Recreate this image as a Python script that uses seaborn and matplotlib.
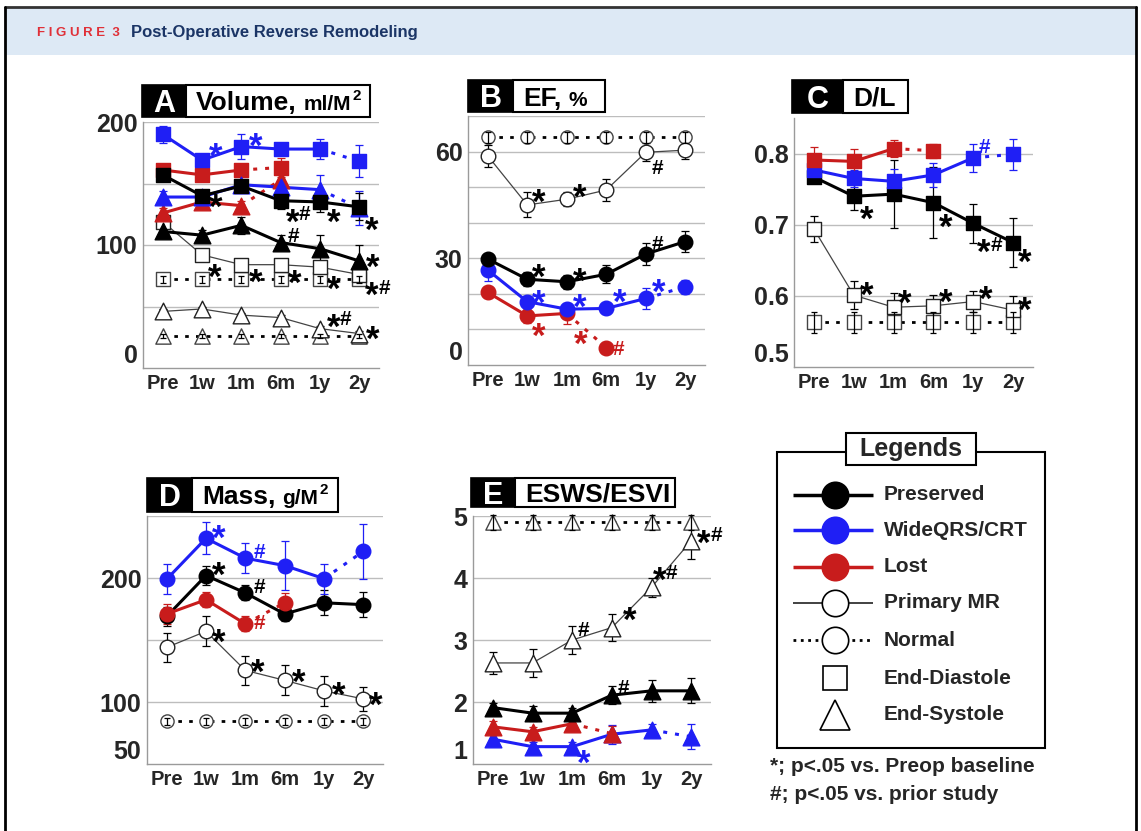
import numpy as np
import matplotlib
matplotlib.use("Agg")
import matplotlib.pyplot as plt
import seaborn as sns
from matplotlib.patches import Rectangle
from matplotlib.lines import Line2D

sns.set_theme(style="white")
plt.rcParams['font.family'] = ['Liberation Sans', 'DejaVu Sans']

W, H = 1141, 831
BLUE = '#1f1ff5'
RED = '#c81c1c'

TIMES = ["Pre", "1w", "1m", "6m", "1y", "2y"]

# A: volume index (ml/M2)
vol_pres_ed = [157, 140, 148, 136, 135, 131]
vol_pres_ed_err = [3, 4, 5, 7, 8, 11]
vol_pres_es = [111, 108, 116, 102, 97, 87]
vol_pres_es_err = [3, 4, 7, 6, 11, 13]
vol_crt_ed = [190, 169, 180, 178, 178, 168]
vol_crt_ed_err = [7, 4, 10, 5, 8, 13]
vol_crt_es = [139, 139, 149, 147, 145, 130]
vol_crt_es_err = [5, 4, 4, 5, 12, 14]
vol_lost_ed = [161, 157, 161, 163]
vol_lost_ed_err = [5, 5, 5, 8]
vol_lost_es = [126, 135, 132, 153]
vol_lost_es_err = [4, 4, 4, 5]
vol_pmr_ed = [119, 92, 84, 84, 82, 76]
vol_pmr_ed_err = [3, 3, 4, 4, 4, 4]
vol_pmr_es = [46, 48, 43, 41, 32, 28]
vol_pmr_es_err = [2, 2, 2, 2, 2, 2]
vol_norm_ed = [72, 72, 72, 72, 72, 72]
vol_norm_ed_err = [3, 3, 3, 3, 3, 3]
vol_norm_es = [26, 26, 26, 26, 26, 26]
vol_norm_es_err = [2, 2, 2, 2, 2, 2]

# B: EF (%)
ef_norm = [64, 64, 64, 64, 64, 64]
ef_norm_err = [1.5, 1.5, 1.5, 1.5, 1.5, 1.5]
ef_pmr = [58.8, 45.0, 46.6, 49.2, 59.8, 60.4]
ef_pmr_err = [3, 3.5, 2, 3, 2.5, 2.5]
ef_pres = [29.8, 24.1, 23.4, 25.5, 31.2, 34.7]
ef_pres_err = [1.5, 2, 2, 2.5, 3, 3]
ef_crt = [26.7, 17.8, 15.7, 15.9, 18.7, 22.0]
ef_crt_err = [3, 1.5, 1.5, 1.5, 3, 2]
ef_lost = [20.4, 13.8, 14.5, 4.9]
ef_lost_err = [1.5, 2, 3, 1.5]

# C: D/L
dl_lost = [0.791, 0.789, 0.807, 0.804]
dl_lost_err = [0.018, 0.018, 0.012, 0.01]
dl_crt = [0.777, 0.765, 0.761, 0.770, 0.794, 0.799]
dl_crt_err = [0.01, 0.012, 0.017, 0.017, 0.02, 0.022]
dl_pres = [0.767, 0.740, 0.743, 0.731, 0.702, 0.675]
dl_pres_err = [0.005, 0.02, 0.048, 0.05, 0.027, 0.035]
dl_pmr = [0.694, 0.601, 0.584, 0.586, 0.592, 0.580]
dl_pmr_err = [0.018, 0.02, 0.02, 0.015, 0.015, 0.02]
dl_norm = [0.563, 0.563, 0.563, 0.563, 0.563, 0.563]
dl_norm_err = [0.015, 0.015, 0.015, 0.015, 0.015, 0.015]

# D: mass (g/M2)
mass_crt = [199, 232, 216, 210, 199.5, 221.5]
mass_crt_err = [12, 13, 12, 20, 12, 22]
mass_pres = [169, 202, 188, 171, 180, 178.5]
mass_pres_err = [8, 8, 6, 6, 10, 10]
mass_lost = [171, 182.5, 163, 180]
mass_lost_err = [8, 6, 6, 8]
mass_pmr = [144, 157, 125.5, 117.5, 109, 102.5]
mass_pmr_err = [12, 12, 12, 12, 12, 10]
mass_norm = [84.4, 84.4, 84.4, 84.4, 84.4, 84.4]
mass_norm_err = [3, 3, 3, 3, 3, 3]

# E: ESWS/ESVI
esws_norm = [4.9, 4.9, 4.9, 4.9, 4.9, 4.9]
esws_norm_err = [0.12, 0.12, 0.12, 0.12, 0.12, 0.12]
esws_pmr = [2.63, 2.63, 3.0, 3.2, 3.85, 4.6]
esws_pmr_err = [0.18, 0.22, 0.22, 0.22, 0.15, 0.3]
esws_pres = [1.91, 1.82, 1.82, 2.11, 2.18, 2.18]
esws_pres_err = [0.08, 0.12, 0.08, 0.15, 0.18, 0.2]
esws_lost = [1.6, 1.52, 1.65, 1.49]
esws_lost_err = [0.1, 0.08, 0.08, 0.12]
esws_crt = [1.4, 1.28, 1.28, 1.48, 1.55, 1.44]
esws_crt_err = [0.08, 0.08, 0.08, 0.15, 0.1, 0.2]

GROUPS = {
    'pres': dict(color='black', lw=2.2, face='black', edge='black', dot_from=None),
    'crt': dict(color=BLUE, lw=2.2, face=BLUE, edge=BLUE, dot_from=4),
    'lost': dict(color=RED, lw=2.2, face=RED, edge=RED, dot_from=2),
    'pmr': dict(color='#444444', lw=0.9, face='white', edge='#222222', dot_from=None),
    'norm': dict(color='black', lw=2.0, face='white', edge='#444444', dot_from=0),
}
DOTS = (0, (1.3, 2.6))


def fig_ax(l, t, r, b):
    return fig.add_axes([l / W, 1 - b / H, (r - l) / W, (b - t) / H])


def draw(ax, y, err, group, marker):
    g = GROUPS[group]
    xs = np.arange(len(y))
    k = g['dot_from'] if g['dot_from'] is not None else len(y) - 1
    if k > 0:
        sns.lineplot(x=xs[:k + 1], y=y[:k + 1], ax=ax, color=g['color'], lw=g['lw'], zorder=3)
    if k < len(y) - 1:
        sns.lineplot(x=xs[k:], y=y[k:], ax=ax, color=g['color'], lw=g['lw'],
                     linestyle=DOTS, zorder=3)
    small = group == 'norm'
    size = 9.5 if small else 10.5
    if marker == '^':
        size += 1.5
    ecol = g['color'] if group in ('crt', 'lost') else 'black'
    ax.errorbar(xs, y, yerr=err, fmt='none', ecolor=ecol, elinewidth=0.9,
                capsize=3 if not small else 2.5, capthick=0.9,
                zorder=4.5 if small else 2, clip_on=False)
    sns.scatterplot(x=xs, y=y, ax=ax, marker=marker, s=size ** 2, color=g['face'],
                    edgecolor=g['edge'], linewidth=1.0, zorder=4, legend=False, clip_on=False)


def mark(ax, y, i, text, color, dx, dy):
    off = dx
    for ch in text:
        if ch == '*':
            fs, rise, w, wt = 25, 0.57, 13, 'bold'
        else:
            fs, rise, w, wt = 15, 0.36, 11, 'bold'
        ax.annotate(ch, xy=(i, y[i]), xytext=(off * 0.72, (dy - rise * fs / 0.72) * 0.72),
                    textcoords='offset points', ha='left', va='baseline', fontsize=fs,
                    color=color, fontweight=wt, annotation_clip=False, zorder=6)
        off += w


def style_axes(ax, ylim, ticks, labels, grid):
    ax.set_xlim(-0.5, 5.5)
    ax.set_ylim(*ylim)
    ax.set_yticks(ticks)
    ax.set_yticklabels(labels, fontsize=18, fontweight='bold')
    ax.set_xticks(range(6))
    ax.set_xticklabels(TIMES, fontsize=14.5, fontweight='bold')
    ax.tick_params(length=0, pad=4)
    for v in grid:
        ax.axhline(v, color='#bdbdbd', lw=1, zorder=1)
    for s in ['top', 'right']:
        ax.spines[s].set_visible(False)
    for s in ['left', 'bottom']:
        ax.spines[s].set_color('#9a9a9a')
        ax.spines[s].set_linewidth(1)
    ax.set_xlabel('')
    ax.set_ylabel('')
    # bottom label sits a little above the axis, as in the source
    ax.get_yticklabels()[0].set_va('bottom')


def title_box(xb, xw, xr, top, bot, letter, main, unit=None):
    h = (bot - top) / H
    fig.patches.append(Rectangle((xb / W, 1 - bot / H), (xw - xb) / W, h, transform=fig.transFigure,
                                 facecolor='black', edgecolor='black', lw=1.2))
    fig.patches.append(Rectangle((xw / W, 1 - bot / H), (xr - xw) / W, h, transform=fig.transFigure,
                                 facecolor='white', edgecolor='black', lw=1.5))
    yc = (top + bot) / 2
    base = yc + 0.36 * 19 / 0.72
    fig.text((xb + xw) / 2 / W, 1 - (yc + 0.36 * 22 / 0.72) / H, letter, color='white', fontsize=22,
             fontweight='bold', ha='center', va='baseline')
    t = fig.text((xw + 10) / W, 1 - base / H, main, color='black', fontsize=19, fontweight='bold',
                 ha='left', va='baseline')
    if unit:
        r = fig.canvas.get_renderer()
        x1 = t.get_window_extent(renderer=r).x1 + 7
        u = fig.text(x1 / W, 1 - base / H, unit[0], color='black', fontsize=15, fontweight='bold',
                     ha='left', va='baseline')
        if unit[1]:
            x2 = u.get_window_extent(renderer=r).x1 + 1
            fig.text(x2 / W, 1 - (base - 10) / H, unit[1], color='black', fontsize=11,
                     fontweight='bold', ha='left', va='baseline')


fig = plt.figure(figsize=(W / 100, H / 100), dpi=100)

# header band and frame
fig.patches.append(Rectangle((5 / W, 1 - 55 / H), 1131 / W, 47 / H, transform=fig.transFigure,
                             facecolor='#dde9f5', edgecolor='none'))
fig.add_artist(Line2D([5 / W, 1136 / W], [1 - 7 / H, 1 - 7 / H], color='#333333', lw=2))
fig.add_artist(Line2D([5 / W, 5 / W], [0, 1 - 7 / H], color='black', lw=2))
fig.add_artist(Line2D([1136 / W, 1136 / W], [0, 1 - 7 / H], color='black', lw=2))
fig.text(37 / W, 1 - 33 / H, 'F I G U R E  3', color='#e03038', fontsize=9.5, fontweight='bold',
         va='center')
fig.text(131 / W, 1 - 33 / H, 'Post-Operative Reverse Remodeling', color='#1b3566', fontsize=12,
         fontweight='bold', va='center')

# ---- A
axA = fig_ax(143, 122, 379, 368)
draw(axA, vol_norm_es, vol_norm_es_err, 'norm', '^')
draw(axA, vol_norm_ed, vol_norm_ed_err, 'norm', 's')
draw(axA, vol_pmr_es, vol_pmr_es_err, 'pmr', '^')
draw(axA, vol_pmr_ed, vol_pmr_ed_err, 'pmr', 's')
draw(axA, vol_pres_es, vol_pres_es_err, 'pres', '^')
draw(axA, vol_lost_es, vol_lost_es_err, 'lost', '^')
draw(axA, vol_lost_ed, vol_lost_ed_err, 'lost', 's')
draw(axA, vol_crt_es, vol_crt_es_err, 'crt', '^')
draw(axA, vol_pres_ed, vol_pres_ed_err, 'pres', 's')
draw(axA, vol_crt_ed, vol_crt_ed_err, 'crt', 's')
style_axes(axA, (0, 200), [0, 50, 100, 150, 200], ['0', '', '100', '', '200'], [50, 100, 150, 200])
for y, i, t, c, dx, dy in [
    (vol_crt_ed, 1, '*', BLUE, 7, 13), (vol_crt_ed, 2, '*', BLUE, 8, 10),
    (vol_pres_ed, 1, '*', 'black', 7, -2), (vol_pres_ed, 3, '*#', 'black', 5, -12),
    (vol_pres_ed, 4, '*', 'black', 7, -11), (vol_pres_ed, 5, '*', 'black', 6, -14),
    (vol_pres_es, 3, '#', 'black', 7, 8), (vol_pres_es, 5, '*', 'black', 7, 3),
    (vol_pmr_ed, 1, '*', 'black', 6, -13), (vol_pmr_ed, 2, '*', 'black', 8, -8),
    (vol_pmr_ed, 3, '*', 'black', 7, -9), (vol_pmr_ed, 4, '*', 'black', 7, -13),
    (vol_pmr_ed, 5, '*#', 'black', 6, -12), (vol_pmr_es, 4, '*#', 'black', 7, 11),
    (vol_pmr_es, 5, '*', 'black', 7, 3)]:
    mark(axA, y, i, t, c, dx, dy)

# ---- B
axB = fig_ax(468, 116, 705, 365)
draw(axB, ef_norm, ef_norm_err, 'norm', 'o')
draw(axB, ef_pmr, ef_pmr_err, 'pmr', 'o')
draw(axB, ef_lost, ef_lost_err, 'lost', 'o')
draw(axB, ef_crt, ef_crt_err, 'crt', 'o')
draw(axB, ef_pres, ef_pres_err, 'pres', 'o')
style_axes(axB, (0, 70), list(range(0, 80, 10)), ['0', '', '', '30', '', '', '60', ''],
           list(range(10, 80, 10)))
for y, i, t, c, dx, dy in [
    (ef_pmr, 1, '*', 'black', 5, 12), (ef_pmr, 2, '*', 'black', 6, 11), (ef_pmr, 4, '#', 'black', 6, -14),
    (ef_pres, 1, '*', 'black', 5, 11), (ef_pres, 2, '*', 'black', 6, 10), (ef_pres, 4, '#', 'black', 6, 12),
    (ef_crt, 1, '*', BLUE, 5, 8), (ef_crt, 2, '*', BLUE, 6, 11), (ef_crt, 3, '*', BLUE, 7, 15),
    (ef_crt, 4, '*', BLUE, 6, 15), (ef_lost, 1, '*', RED, 5, -11), (ef_lost, 2, '*', RED, 7, -22),
    (ef_lost, 3, '#', RED, 6, 0)]:
    mark(axB, y, i, t, c, dx, dy)

# ---- C
axC = fig_ax(794, 118, 1033, 367)
draw(axC, dl_norm, dl_norm_err, 'norm', 's')
draw(axC, dl_pmr, dl_pmr_err, 'pmr', 's')
draw(axC, dl_pres, dl_pres_err, 'pres', 's')
draw(axC, dl_crt, dl_crt_err, 'crt', 's')
draw(axC, dl_lost, dl_lost_err, 'lost', 's')
style_axes(axC, (0.5, 0.85), [0.5, 0.6, 0.7, 0.8], ['0.5', '0.6', '0.7', '0.8'], [0.6, 0.7, 0.8])
for y, i, t, c, dx, dy in [
    (dl_crt, 4, '#', BLUE, 5, 12), (dl_pres, 1, '*', 'black', 6, -14), (dl_pres, 3, '*', 'black', 6, -15),
    (dl_pres, 4, '*#', 'black', 4, -20), (dl_pres, 5, '*', 'black', 5, -11),
    (dl_pmr, 1, '*', 'black', 6, 9), (dl_pmr, 2, '*', 'black', 4, 13), (dl_pmr, 3, '*', 'black', 6, 13),
    (dl_pmr, 4, '*', 'black', 6, 11), (dl_pmr, 5, '*', 'black', 5, 9)]:
    mark(axC, y, i, t, c, dx, dy)

# ---- D
axD = fig_ax(147, 516, 383, 764)
draw(axD, mass_norm, mass_norm_err, 'norm', 'o')
draw(axD, mass_pmr, mass_pmr_err, 'pmr', 'o')
draw(axD, mass_pres, mass_pres_err, 'pres', 'o')
draw(axD, mass_lost, mass_lost_err, 'lost', 'o')
draw(axD, mass_crt, mass_crt_err, 'crt', 'o')
style_axes(axD, (50, 250), [50, 100, 150, 200, 250], ['50', '100', '', '200', ''], [100, 150, 200, 250])
for y, i, t, c, dx, dy in [
    (mass_crt, 1, '*', BLUE, 6, 9), (mass_crt, 2, '#', BLUE, 8, 8),
    (mass_pres, 1, '*', 'black', 6, 9), (mass_pres, 2, '#', 'black', 8, 7), (mass_lost, 2, '#', RED, 8, 2),
    (mass_pmr, 1, '*', 'black', 6, -2), (mass_pmr, 2, '*', 'black', 6, 7), (mass_pmr, 3, '*', 'black', 7, 7),
    (mass_pmr, 4, '*', 'black', 8, 5), (mass_pmr, 5, '*', 'black', 6, 3)]:
    mark(axD, y, i, t, c, dx, dy)

# ---- E
axE = fig_ax(473, 516, 711, 764)
draw(axE, esws_norm, esws_norm_err, 'norm', '^')
draw(axE, esws_pmr, esws_pmr_err, 'pmr', '^')
draw(axE, esws_crt, esws_crt_err, 'crt', '^')
draw(axE, esws_lost, esws_lost_err, 'lost', '^')
draw(axE, esws_pres, esws_pres_err, 'pres', '^')
style_axes(axE, (1, 5), [1, 2, 3, 4, 5], ['1', '2', '3', '4', '5'], [2, 3, 4, 5])
for y, i, t, c, dx, dy in [
    (esws_pmr, 5, '*#', 'black', 6, 7), (esws_pmr, 4, '*#', 'black', 1, 16), (esws_pmr, 3, '*', 'black', 11, 17),
    (esws_pmr, 2, '#', 'black', 5, 12), (esws_pres, 3, '#', 'black', 6, 9), (esws_crt, 2, '*', BLUE, 5, -7)]:
    mark(axE, y, i, t, c, dx, dy)

# panel titles
title_box(142, 186, 370, 85, 117, 'A', 'Volume,', ('ml/M', '2'))
title_box(468, 513, 605, 80, 112, 'B', 'EF,', ('%', None))
title_box(792, 843, 908, 80, 113, 'C', 'D/L')
title_box(147, 192, 338, 478, 512, 'D', 'Mass,', ('g/M', '2'))
title_box(471, 515, 675, 478, 507, 'E', 'ESWS/ESVI')

# legend panel
axL = fig.add_axes([0, 0, 1, 1], facecolor='none')
axL.set_xlim(0, W)
axL.set_ylim(H, 0)
axL.axis('off')
axL.add_patch(Rectangle((777, 452), 268, 296, facecolor='white', edgecolor='black', lw=1.5))
axL.add_patch(Rectangle((846, 433), 130, 32, facecolor='white', edgecolor='black', lw=1.5))
axL.text(911, 449, 'Legends', fontsize=18, fontweight='bold', ha='center', va='center')
entries = [('Preserved', 'black', 'black', '-', 2.5, 'o'),
           ('WideQRS/CRT', BLUE, BLUE, '-', 2.5, 'o'),
           ('Lost', RED, RED, '-', 2.5, 'o'),
           ('Primary MR', '#333333', 'white', '-', 1.3, 'o'),
           ('Normal', 'black', 'white', ':', 2.0, 'o'),
           ('End-Diastole', None, 'white', '', 0, 's'),
           ('End-Systole', None, 'white', '', 0, '^')]
ys = [495, 530, 567, 603, 640, 678, 715]
for (name, lc, fc, ls, lw, mk), yy in zip(entries, ys):
    if lc is not None:
        axL.plot([793, 873], [yy, yy], color=lc, lw=lw, linestyle=ls, solid_capstyle='butt')
    ms = {'o': 19, 's': 17, '^': 21}[mk]
    axL.plot([835], [yy], marker=mk, markersize=ms, markerfacecolor=fc,
             markeredgecolor='black' if fc == 'white' else fc, markeredgewidth=1.2, linestyle='none')
    axL.text(884, yy, name, fontsize=15, fontweight='bold', ha='left', va='center')
axL.text(770, 767, '*; p<.05 vs. Preop baseline', fontsize=15, fontweight='bold', ha='left', va='center')
axL.text(770, 795, '#; p<.05 vs. prior study', fontsize=15, fontweight='bold', ha='left', va='center')

fig.savefig('out.png', dpi=100)
